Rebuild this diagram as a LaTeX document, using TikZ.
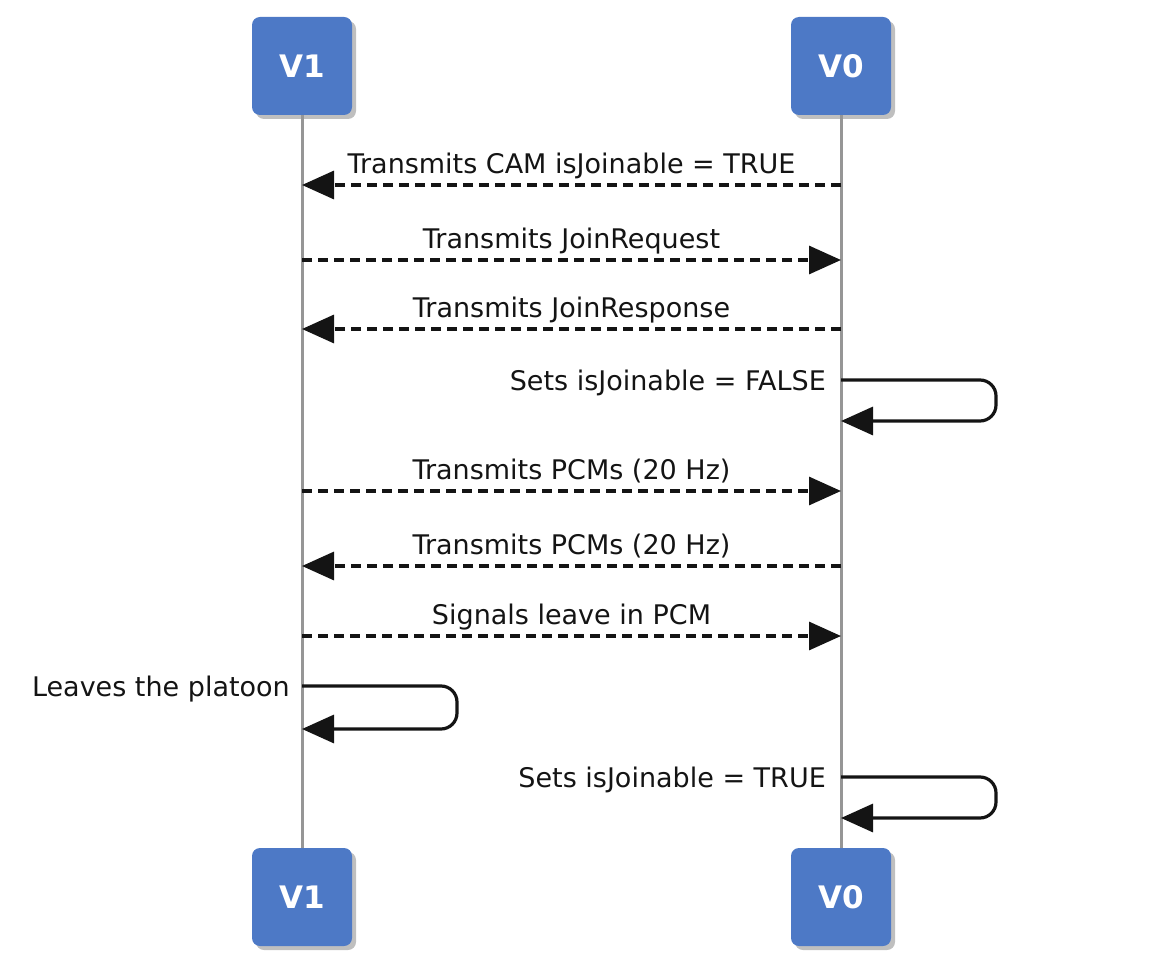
\documentclass[tikz,border=0pt]{standalone}
\usepackage{fontspec}
\setmainfont{DejaVu Sans}
\usetikzlibrary{arrows.meta,shadows}
\definecolor{actorblue}{RGB}{77,121,198}
\definecolor{lifegray}{RGB}{150,150,150}
\definecolor{inkgray}{RGB}{20,20,20}

\begin{document}
\begin{tikzpicture}[x=1pt,y=-1pt,font=\fontsize{27}{32}\selectfont,text=inkgray,
 actor/.style={fill=actorblue,rounded corners=8pt,minimum width=100pt,minimum height=98pt,text=white,
  font=\fontsize{31}{36}\selectfont\bfseries,drop shadow={shadow xshift=4pt,shadow yshift=-4pt,opacity=.5}},
 msg/.style={inkgray,line width=3.2pt,dash pattern=on 10pt off 6pt,-{Triangle[length=32pt,width=28pt]}},
 selfmsg/.style={inkgray,line width=3.2pt,rounded corners=16pt,-{Triangle[length=32pt,width=28pt]}},
 lbl/.style={inner sep=0pt,text height=20pt,text depth=6pt}]
\useasboundingbox (0,0) rectangle (1164,968);
\node[actor] (v1top) at (302,66) {V1};
\node[actor] (v0top) at (841,66) {V0};
\node[actor] (v1bot) at (302,897) {V1};
\node[actor] (v0bot) at (841,897) {V0};
\draw[lifegray,line width=3pt] (v1top)--(v1bot) (v0top)--(v0bot);
% points on the lifelines
\foreach \y in {185,260,329,380,421,491,566,636,686,729,777,818}{
\coordinate (l\y) at (302,\y);\coordinate (r\y) at (841,\y);}
% messages between the vehicles
\foreach \y/\a/\b/\txt in {185/r/l/Transmits CAM isJoinable = TRUE,260/l/r/Transmits JoinRequest,
 329/r/l/Transmits JoinResponse,491/l/r/Transmits PCMs (20 Hz),566/r/l/Transmits PCMs (20 Hz),
 636/l/r/Signals leave in PCM}{
\draw[msg] (\a\y)--node[lbl,above=4pt]{\txt}(\b\y);}
% self messages
\draw[selfmsg] (r380)--++(155,0)|-(r421);
\node[lbl,anchor=base east] (setfalse) at ([xshift=-15pt,yshift=-10pt]r380){Sets isJoinable = FALSE};
\draw[selfmsg] (l686)--++(155,0)|-(l729);
\node[lbl,anchor=base east] (leaves) at ([xshift=-12pt,yshift=-10pt]l686){Leaves the platoon};
\draw[selfmsg] (r777)--++(155,0)|-(r818);
\node[lbl,anchor=base east] (settrue) at ([xshift=-15pt,yshift=-10pt]r777){Sets isJoinable = TRUE};
\end{tikzpicture}
\end{document}
